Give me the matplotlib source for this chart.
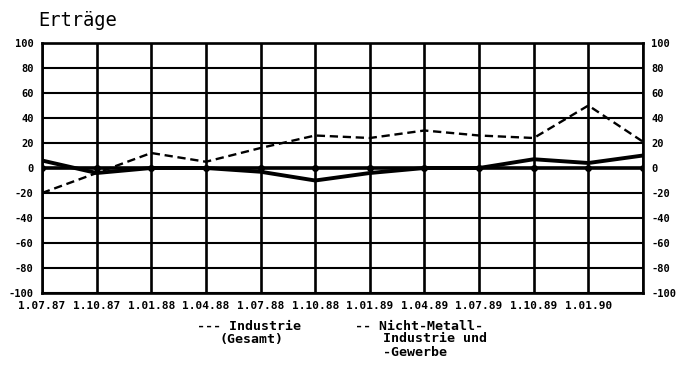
import matplotlib
matplotlib.use("Agg")
import matplotlib.pyplot as plt
import numpy as np

dates = ["1.07.87", "1.10.87", "1.01.88", "1.04.88", "1.07.88", "1.10.88",
         "1.01.89", "1.04.89", "1.07.89", "1.10.89", "1.01.90", "1.04.90"]
tick_labels = dates[:11]
industrie = [-20, -4, 12, 5, 16, 26, 24, 30, 26, 24, 50, 21]
nicht_metall = [6, -4, 0, 0, -3, -10, -4, 0, 0, 7, 4, 10]
yticks = [-100, -80, -60, -40, -20, 0, 20, 40, 60, 80, 100]

mono = "DejaVu Sans Mono"
fig = plt.figure(figsize=(6.84, 3.88), dpi=100)
ax = fig.add_axes([42/684, 1-293/388, (643-42)/684, 250/388])
x = np.arange(len(dates))

for yv in yticks:
    ax.axhline(yv, color="black", lw=1.5, zorder=1)
for xv in x:
    ax.axvline(xv, color="black", lw=1.9, zorder=1)
ax.axhline(0, color="black", lw=2.6, zorder=2)
ax.plot(x, [0]*len(x), ls="none", marker="o", ms=4, color="black", zorder=3)

ax.plot(x, industrie, color="black", lw=1.7, ls=(0, (3.5, 2)), zorder=4)
ax.plot(x, nicht_metall, color="black", lw=2.8, zorder=4)

ax.set_xlim(0, 11)
ax.set_ylim(-100, 100)
for s in ax.spines.values():
    s.set_linewidth(1.9)
ax.set_yticks(yticks)
ax.set_yticklabels([str(v) for v in yticks], fontfamily=mono, fontweight="bold", fontsize=7.5)
ax.tick_params(axis="y", length=0, pad=6, labelright=True)
ax.set_xticks(x[:11])
ax.set_xticklabels(tick_labels, fontfamily=mono, fontweight="bold", fontsize=8)
ax.tick_params(axis="x", length=0, pad=6)

fig.text(38/684, 1-21/388, "Erträge", fontfamily=mono, fontsize=13.5, va="center", ha="left")

fig.text(197/684, 1-326/388, "--- Industrie", fontfamily=mono, fontweight="bold", fontsize=9.5, va="center")
fig.text(220/684, 1-339/388, "(Gesamt)", fontfamily=mono, fontweight="bold", fontsize=9.5, va="center")
fig.text(355/684, 1-326/388, "-- Nicht-Metall-", fontfamily=mono, fontweight="bold", fontsize=9.5, va="center")
fig.text(383/684, 1-339/388, "Industrie und", fontfamily=mono, fontweight="bold", fontsize=9.5, va="center")
fig.text(383/684, 1-352/388, "-Gewerbe", fontfamily=mono, fontweight="bold", fontsize=9.5, va="center")

fig.savefig("out.png", dpi=100, facecolor="white")
